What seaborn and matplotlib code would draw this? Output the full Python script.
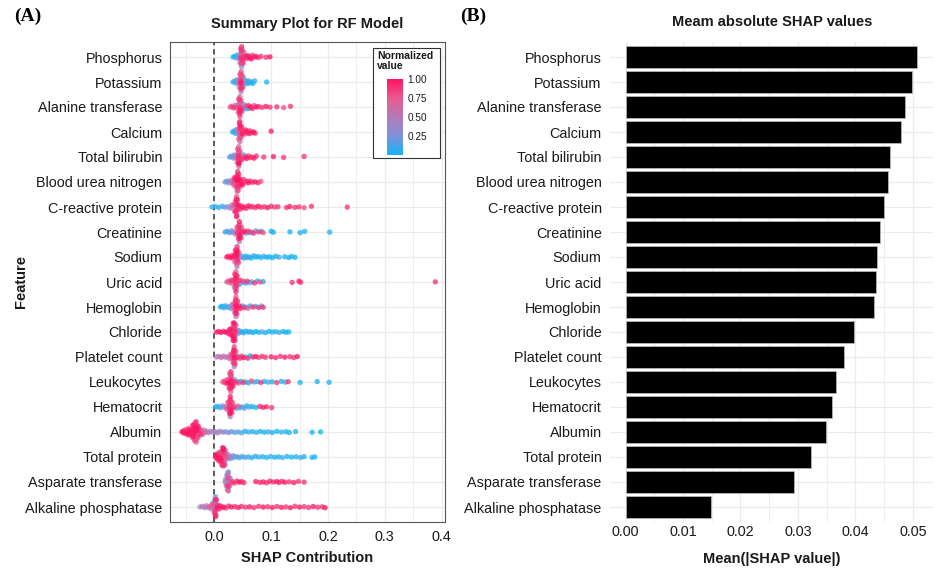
import numpy as np
import pandas as pd
import matplotlib
matplotlib.use("Agg")
import matplotlib.pyplot as plt
import seaborn as sns
from matplotlib.colors import LinearSegmentedColormap, Normalize
from matplotlib.cm import ScalarMappable
from matplotlib.patches import Rectangle

# ---------------- data ----------------
features = ["Phosphorus", "Potassium", "Alanine transferase", "Calcium", "Total bilirubin",
            "Blood urea nitrogen", "C-reactive protein", "Creatinine", "Sodium", "Uric acid",
            "Hemoglobin", "Chloride", "Platelet count", "Leukocytes", "Hematocrit",
            "Albumin", "Total protein", "Asparate transferase", "Alkaline phosphatase"]

mean_abs_shap = [0.0507, 0.0499, 0.0486, 0.0480, 0.0461, 0.0457, 0.0449, 0.0443, 0.0438,
                 0.0435, 0.0433, 0.0398, 0.0380, 0.0367, 0.0360, 0.0348, 0.0323, 0.0294, 0.0148]

# SHAP values in thousandths, normalized feature values in tenths
phosphorus_shap = [33,36,39,41,43,44,45,46,46,47,47,48,48,48,48,48,48,48,49,49,50,50,51,52,53,55,57,59,61,63,65,67,70,73,77,82,91,98]
phosphorus_norm = [0,0,1,1,2,3,5,7,9,4,8,9,6,8,3,9,5,7,8,4,9,6,8,7,9,9,8,10,9,9,10,8,9,10,9,9,9,10]
potassium_shap = [33,36,38,40,42,43,44,45,46,46,47,47,47,47,47,47,47,48,48,49,49,50,51,52,54,56,58,60,62,65,68,71,92]
potassium_norm = [0,1,1,2,3,5,6,8,9,7,9,8,6,9,5,8,10,7,9,6,8,4,3,2,1,1,0,1,0,0,0,1,0]
alanine_shap = [28,31,34,37,39,41,42,43,44,44,45,45,45,45,45,45,45,46,46,47,48,49,50,52,54,56,58,60,62,64,67,70,74,78,84,91,98,110,122,134]
alanine_norm = [8,7,9,6,8,5,7,9,8,6,9,7,10,5,8,6,9,7,5,8,9,4,3,2,1,8,0,9,1,10,9,8,10,9,9,10,9,9,8,9]
calcium_shap = [32,35,37,39,41,42,43,44,44,45,45,45,45,45,45,45,46,46,47,48,49,51,53,55,57,59,61,63,66,69,72,100]
calcium_norm = [0,1,0,2,3,5,7,8,6,9,7,10,5,8,6,9,7,9,8,9,10,9,8,10,9,9,10,8,9,10,9,10]
bilirubin_shap = [27,30,33,35,37,39,40,41,42,42,43,43,43,43,43,43,43,44,44,45,46,47,49,51,53,55,57,60,63,66,70,74,87,104,122,158]
bilirubin_norm = [1,2,3,1,4,5,6,8,9,7,10,6,8,9,5,7,9,8,10,6,9,7,8,2,9,1,10,9,8,9,10,9,9,10,9,9]
bun_shap = [19,22,25,28,30,32,34,35,36,37,38,38,39,40,40,41,41,41,41,41,41,42,42,43,43,44,45,46,47,48,50,52,54,57,60,63,67,72,77,82]
bun_norm = [2,1,3,4,5,6,7,9,8,10,6,9,8,10,7,9,5,10,8,6,9,10,8,9,7,10,9,8,10,9,10,9,8,9,10,9,9,10,9,8]
crp_shap = [-4,2,8,14,19,24,28,31,33,35,36,37,38,38,39,39,39,39,39,39,39,40,40,41,42,43,45,47,50,53,56,60,64,68,72,77,82,88,94,100,106,112,127,133,142,149,158,171,234]
crp_norm = [0,1,0,1,2,3,4,5,6,8,9,7,9,6,10,8,5,9,7,10,8,9,6,8,9,10,9,8,10,9,9,10,9,8,9,10,9,9,10,9,8,9,9,10,9,9,8,9,9]
creatinine_shap = [19,23,27,30,33,36,38,40,41,42,43,43,44,44,44,44,44,44,44,45,45,46,47,48,50,53,56,59,62,65,69,73,78,83,86,100,104,133,151,159,203]
creatinine_norm = [1,0,2,3,1,5,6,8,9,7,10,6,8,9,5,10,7,9,6,8,10,7,9,8,9,10,2,9,0,8,9,1,9,0,8,0,0,0,0,0,0]
sodium_shap = [22,25,28,31,33,35,36,37,38,38,39,39,40,40,40,40,40,40,40,41,41,42,43,44,46,49,52,55,58,61,65,69,73,77,82,87,92,97,102,108,114,124,131,136,142]
sodium_norm = [10,9,10,8,9,10,7,9,8,10,6,9,8,10,5,9,7,10,6,8,9,5,7,4,3,2,1,0,1,0,0,1,0,0,0,1,0,0,0,0,1,0,0,0,0]
uric_shap = [22,25,28,30,32,34,35,36,37,37,38,38,38,38,38,38,38,39,39,40,41,42,44,46,49,52,55,58,62,66,71,76,81,86,137,149,152,389]
uric_norm = [6,8,5,9,7,8,6,9,7,10,5,8,9,6,10,7,9,8,6,9,7,8,2,9,1,8,0,9,2,1,9,0,8,0,9,10,9,9]
hemoglobin_shap = [11,14,17,20,24,27,30,32,34,35,36,37,37,38,38,38,38,38,38,38,39,39,40,41,42,44,46,49,52,55,59,63,68,73,78,83,86]
hemoglobin_norm = [0,0,1,0,1,2,3,5,7,8,6,9,7,10,5,8,9,6,10,7,9,8,6,9,8,10,9,1,9,0,8,1,9,0,9,1,9]
chloride_shap = [4,8,12,16,20,23,25,27,28,29,30,31,32,32,33,33,34,34,34,35,35,35,35,35,35,35,36,36,36,37,37,38,39,40,41,43,46,49,52,56,60,64,68,73,78,84,90,96,102,108,114,121,126,131]
chloride_norm = [10,9,10,9,10,8,9,10,7,9,10,8,9,7,10,8,9,6,10,7,9,5,8,10,6,9,7,8,5,9,4,6,3,5,2,1,1,0,1,0,0,1,0,0,0,1,0,0,0,0,1,0,0,0]
platelet_shap = [4,8,12,16,20,24,27,29,31,32,33,34,34,35,35,35,35,35,35,35,36,36,37,38,40,42,45,48,51,55,59,63,68,73,78,84,90,100,108,116,124,133,140,146]
platelet_norm = [5,4,6,5,4,6,7,5,8,9,6,10,7,9,5,8,10,6,9,7,8,9,6,8,9,2,9,8,10,1,9,0,9,10,8,9,9,10,9,9,10,9,9,10]
leukocytes_shap = [15,18,20,22,24,25,26,27,27,28,28,29,29,29,29,29,29,29,30,30,31,32,33,35,37,40,43,47,51,55,60,65,70,76,82,88,95,102,110,118,125,130,151,181,202]
leukocytes_norm = [8,6,9,7,10,8,9,6,10,7,9,8,5,10,7,9,6,8,9,7,10,8,9,2,9,1,8,0,9,1,0,8,1,0,9,0,1,0,9,0,1,9,0,0,0]
hematocrit_shap = [2,6,10,14,17,20,22,24,25,26,27,27,28,28,28,28,28,28,28,29,29,30,31,32,34,36,39,42,45,49,53,57,62,67,73,80,86,92,101]
hematocrit_norm = [0,1,0,2,3,5,6,8,9,7,10,6,8,9,5,10,7,9,6,8,10,7,9,8,9,6,1,7,0,1,2,0,1,0,0,9,10,9,9]
albumin_shap = [-57,-55,-53,-51,-50,-48,-47,-46,-45,-44,-43,-42,-41,-40,-39,-38,-38,-37,-37,-36,-36,-35,-35,-34,-34,-34,-33,-33,-33,-33,-32,-32,-32,-31,-31,-30,-30,-29,-29,-28,-27,-26,-25,-24,-23,-22,-20,-18,-16,-13,-10,-6,-2,2,6,10,15,20,25,30,36,42,48,54,60,67,74,81,88,95,102,110,118,126,132,143,172,187]
albumin_norm = [10,9,10,9,10,9,10,8,9,10,9,8,10,9,7,10,8,9,10,7,9,10,8,9,7,10,8,9,6,10,8,9,7,10,8,9,6,10,8,9,7,8,9,6,8,7,6,5,6,4,5,4,3,5,4,3,4,2,3,2,1,2,1,0,1,0,1,0,0,1,0,0,1,0,0,0,0,0]
protein_shap = [2,3,4,5,6,7,8,9,10,11,11,12,12,13,13,14,14,15,15,16,16,16,16,16,17,17,17,18,18,19,19,20,21,22,23,24,26,28,30,33,36,40,44,49,54,60,66,72,78,85,92,99,106,113,120,128,136,144,152,158,172,177]
protein_norm = [9,10,8,9,10,7,9,8,10,6,9,8,10,7,9,5,8,9,6,10,7,8,9,10,6,8,9,7,5,8,6,4,7,5,3,4,3,4,2,3,1,2,0,1,2,0,1,0,1,0,0,1,0,0,1,0,0,0,1,0,0,0]
asparate_shap = [19,20,21,22,22,23,23,24,24,24,24,24,24,24,25,25,26,26,27,28,30,33,36,40,44,48,52,73,80,86,92,98,104,110,114,119,124,132,140,148,158]
asparate_norm = [4,3,5,2,6,4,7,3,5,8,2,6,9,4,5,3,6,4,7,5,8,9,8,9,10,9,9,10,9,10,9,10,9,10,9,9,10,9,10,9,9]
alkaline_shap = [-25,-21,-17,-14,-11,-8,-6,-4,-2,-1,0,0,1,1,2,2,2,2,2,2,2,3,3,4,5,6,8,10,13,16,20,25,30,36,42,48,55,62,70,78,86,94,102,110,118,126,134,142,150,158,166,174,182,190,195]
alkaline_norm = [4,5,3,6,4,7,5,8,6,3,9,1,7,4,10,2,8,5,0,9,6,3,8,9,10,9,8,10,9,10,9,9,10,9,10,9,9,10,9,9,10,9,10,9,10,9,10,9,10,9,9,10,9,9,10]

shap_lists = [phosphorus_shap, potassium_shap, alanine_shap, calcium_shap, bilirubin_shap,
              bun_shap, crp_shap, creatinine_shap, sodium_shap, uric_shap, hemoglobin_shap,
              chloride_shap, platelet_shap, leukocytes_shap, hematocrit_shap, albumin_shap,
              protein_shap, asparate_shap, alkaline_shap]
norm_lists = [phosphorus_norm, potassium_norm, alanine_norm, calcium_norm, bilirubin_norm,
              bun_norm, crp_norm, creatinine_norm, sodium_norm, uric_norm, hemoglobin_norm,
              chloride_norm, platelet_norm, leukocytes_norm, hematocrit_norm, albumin_norm,
              protein_norm, asparate_norm, alkaline_norm]


def van_der_corput(n, base=2):
    seq = []
    for k in range(1, n + 1):
        q, denom, kk = 0.0, 1.0, k
        while kk:
            kk, rem = divmod(kk, base)
            denom *= base
            q += rem / denom
        seq.append(q)
    return np.array(seq)


def quasirandom_offsets(vals, bw=2.5, amp=0.44):
    """Density-scaled quasi-random vertical offsets (like ggbeeswarm::geom_quasirandom)."""
    vals = np.asarray(vals, dtype=float)
    d = np.exp(-0.5 * ((vals[:, None] - vals[None, :]) / bw) ** 2).sum(axis=1)
    d = d / d.max()
    order = np.argsort(vals, kind="stable")
    q = 2 * van_der_corput(len(vals)) - 1
    offs = np.zeros(len(vals))
    offs[order] = q * d[order] * amp
    return offs


rows = []
for i, (sv, nv) in enumerate(zip(shap_lists, norm_lists)):
    n = min(len(sv), len(nv))
    sv, nv = sv[:n], nv[:n]
    offs = quasirandom_offsets(sv)
    for s, c, o in zip(sv, nv, offs):
        rows.append({"feature": features[i], "shap": s / 1000.0, "norm": c / 10.0, "ypos": i + o})
df = pd.DataFrame(rows)
df = df.sort_values("norm", kind="stable")
bar_df = pd.DataFrame({"feature": features, "mean": mean_abs_shap})

# ---------------- style ----------------
sns.set_style("white")
plt.rcParams["font.family"] = ["Liberation Sans", "DejaVu Sans"]

cmap = LinearSegmentedColormap.from_list(
    "shapc", [(0.0, "#12B4F2"), (0.25, "#7F92DA"), (0.5, "#B57AB8"), (0.75, "#E95A8E"), (1.0, "#FF1464")])

W, H = 936, 570
fig = plt.figure(figsize=(W / 100, H / 100), dpi=100)
fig.patch.set_facecolor("white")

def fx(px):
    return px / W

def fy(py):
    return (H - py) / H

axA = fig.add_axes([fx(170), fy(522), (445 - 170) / W, 480 / H])
axB = fig.add_axes([fx(610), fy(522), (933 - 610) / W, 480 / H])

grid_c = "#EBEBEB"
txt_c = "#1A1A1A"
LAB = 10.4

# ---------------- Panel A ----------------
axA.set_xlim(-0.078, 0.406)
axA.set_ylim(18.6, -0.6)
for xv in np.arange(-0.05, 0.401, 0.05):
    axA.axvline(xv, color=grid_c, lw=0.9 if abs(round(xv * 20) % 2) == 0 else 0.6, zorder=0)
for yv in range(len(features)):
    axA.axhline(yv, color=grid_c, lw=0.9, zorder=0)
axA.axvline(0, color="#333333", lw=1.1, ls=(0, (3.5, 2.5)), zorder=1)

sns.scatterplot(data=df, x="shap", y="ypos", hue="norm", palette=cmap, hue_norm=(0, 1),
                s=15, alpha=0.75, linewidth=0, legend=False, ax=axA, zorder=3)

axA.set_yticks(range(len(features)))
axA.set_yticklabels(features)
axA.set_xticks([0.0, 0.1, 0.2, 0.3, 0.4])
axA.set_xticklabels(["0.0", "0.1", "0.2", "0.3", "0.4"])
axA.tick_params(axis="both", labelsize=LAB, colors="#333333", labelcolor=txt_c, length=3.5, width=0.8, pad=2)
axA.set_xlabel("")
axA.set_ylabel("")
for sp in axA.spines.values():
    sp.set_visible(True)
    sp.set_color("#555555")
    sp.set_linewidth(0.8)
axA.grid(False)

# legend box with colorbar
axA.add_patch(Rectangle((fx(373), fy(158)), (440 - 373) / W, (158 - 48) / H,
                        transform=fig.transFigure, facecolor="white", edgecolor="#333333",
                        lw=0.8, zorder=10, clip_on=False))
fig.text(fx(377), fy(51), "Normalized\nvalue", fontsize=7.5, fontweight="bold", color=txt_c,
         ha="left", va="top", linespacing=0.95, zorder=11)
cax = fig.add_axes([fx(387), fy(155), 16 / W, 76 / H])
cax.set_zorder(12)
cb = fig.colorbar(ScalarMappable(norm=Normalize(0, 1), cmap=cmap), cax=cax)
cb.outline.set_visible(False)
cb.set_ticks([0.25, 0.5, 0.75, 1.0])
cb.set_ticklabels(["0.25", "0.50", "0.75", "1.00"])
cax.tick_params(labelsize=7.2, length=3, width=0.6, color="white", direction="in", pad=3, labelcolor=txt_c)

# ---------------- Panel B ----------------
axB.set_xlim(-0.0027, 0.0535)
for xv in np.arange(0.0, 0.0531, 0.005):
    axB.axvline(xv, color=grid_c, lw=0.9 if int(round(xv * 1000)) % 10 == 0 else 0.6, zorder=0)
for yv in range(len(features)):
    axB.axhline(yv, color=grid_c, lw=0.9, zorder=0)
sns.barplot(data=bar_df, x="mean", y="feature", order=features, color="black", width=0.9,
            edgecolor="#BDBDBD", linewidth=0.5, ax=axB, zorder=2, saturation=1)
axB.set_ylim(18.6, -0.6)
axB.set_xticks([0.0, 0.01, 0.02, 0.03, 0.04, 0.05])
axB.set_xticklabels(["0.00", "0.01", "0.02", "0.03", "0.04", "0.05"])
axB.tick_params(axis="both", labelsize=LAB, length=0, pad=6, labelcolor=txt_c)
axB.tick_params(axis="x", pad=2)
axB.set_xlabel("")
axB.set_ylabel("")
for sp in axB.spines.values():
    sp.set_visible(False)
axB.grid(False)

# ---------------- titles and labels ----------------
fig.text(fx(307.5), fy(24), "Summary Plot for RF Model", fontsize=10.5, fontweight="bold",
         ha="center", va="center", color=txt_c)
fig.text(fx(772), fy(22), "Meam absolute SHAP values", fontsize=10.5, fontweight="bold",
         ha="center", va="center", color=txt_c)
fig.text(fx(307.5), fy(558), "SHAP Contribution", fontsize=10.5, fontweight="bold",
         ha="center", va="center", color=txt_c)
fig.text(fx(772), fy(559), "Mean(|SHAP value|)", fontsize=10.5, fontweight="bold",
         ha="center", va="center", color=txt_c)
fig.text(fx(21), fy(282), "Feature", fontsize=10.5, fontweight="bold", rotation=90,
         ha="center", va="center", color=txt_c)
fig.text(fx(14), fy(16), "(A)", fontsize=14, fontweight="bold", family=["Liberation Serif", "DejaVu Serif"],
         ha="left", va="center", color="black")
fig.text(fx(460), fy(16), "(B)", fontsize=14, fontweight="bold", family=["Liberation Serif", "DejaVu Serif"],
         ha="left", va="center", color="black")

fig.savefig("out.png", dpi=100, facecolor="white")
